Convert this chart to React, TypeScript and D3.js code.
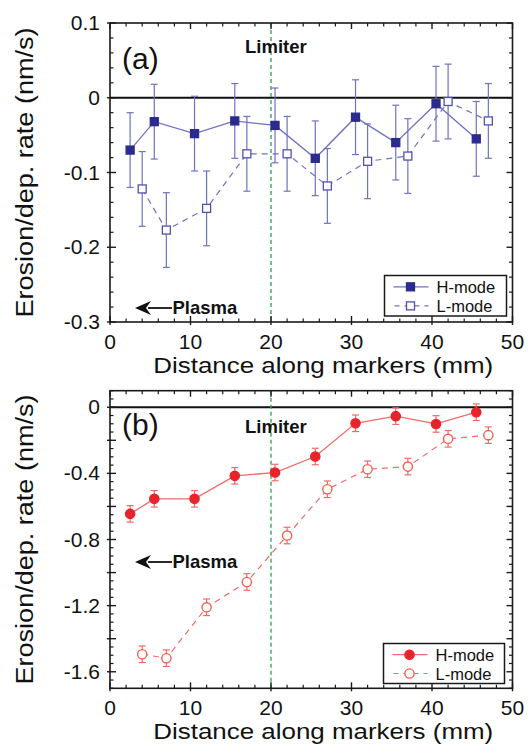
import React from "react";
import * as d3 from "d3";

// ---- data ----
const xH = [2.5, 5.5, 10.5, 15.5, 20.5, 25.5, 30.5, 35.5, 40.5, 45.5];
const xL = [4, 7, 12, 17, 22, 27, 32, 37, 42, 47];
const aHmode = [-0.07, -0.032, -0.048, -0.031, -0.037, -0.081, -0.026, -0.06, -0.008, -0.055];
const aLmode = [-0.122, -0.177, -0.148, -0.075, -0.075, -0.118, -0.085, -0.078, -0.005, -0.031];
const aErr = [0.05, 0.05, 0.05, 0.05, 0.05, 0.05, 0.05, 0.05, 0.05, 0.05];
const bHmode = [-0.645, -0.554, -0.554, -0.415, -0.395, -0.298, -0.097, -0.054, -0.101, -0.03];
const bLmode = [-1.494, -1.518, -1.21, -1.057, -0.776, -0.496, -0.375, -0.359, -0.191, -0.169];
const bErr = [0.05, 0.05, 0.05, 0.05, 0.05, 0.05, 0.05, 0.05, 0.05, 0.05];
const xTickLabels = [0, 10, 20, 30, 40, 50];
const aYTickLabels = [0.1, 0, -0.1, -0.2, -0.3];
const bYTickLabels = [0, -0.4, -0.8, -1.2, -1.6];
const legendNames = ["H-mode", "L-mode"];
const limiterX = 20;

const FONT = "'Liberation Sans', Arial, Helvetica, sans-serif";

type PanelProps = {
  top: number;
  bottom: number;
  yDomain: [number, number];
  yLabels: number[];
  yMajorStep: number;
  yMinorStep: number;
  hVals: number[];
  lVals: number[];
  err: number[];
  kind: "square" | "circle";
  markerColor: string;
  lineColor: string;
  openColor: string;
  tag: string;
  tagBaseline: number;
  limiterBaseline: number;
  plasmaBaseline: number;
  legend: { x0: number; y0: number; x1: number; y1: number };
};

const L = 110;
const R = 512.5;

function fmt(v: number) {
  if (Math.abs(v) < 1e-9) return "0";
  return String(v);
}

function range(a: number, b: number, step: number) {
  const out: number[] = [];
  const n = Math.round((b - a) / step);
  for (let i = 0; i <= n; i++) out.push(+(a + i * step).toFixed(6));
  return out;
}

function Marker({ kind, cx, cy, fill, stroke }: any) {
  if (kind === "square") {
    return <rect x={cx - 4} y={cy - 4} width={8} height={8} fill={fill} stroke={stroke} strokeWidth={1.3} />;
  }
  return <circle cx={cx} cy={cy} r={4.6} fill={fill} stroke={stroke} strokeWidth={1.4} />;
}

function Panel(p: PanelProps) {
  const x = d3.scaleLinear().domain([0, 50]).range([L, R]);
  const y = d3.scaleLinear().domain(p.yDomain).range([p.bottom, p.top]);
  const lineGen = d3
    .line<[number, number]>()
    .x((d) => x(d[0]))
    .y((d) => y(d[1]));
  const hPts: [number, number][] = xH.map((xv, i) => [xv, p.hVals[i]]);
  const lPts: [number, number][] = xL.map((xv, i) => [xv, p.lVals[i]]);

  const xMinor = range(0, 50, 2).filter((v) => Math.abs(v % 10) > 1e-6);
  const yMajor = range(p.yDomain[0], p.yDomain[1], p.yMajorStep).filter(
    (v) => Math.abs(Math.round(v / p.yMajorStep) * p.yMajorStep - v) < 1e-6
  );
  const yMajorAll = range(-2, 0.2, p.yMajorStep).filter((v) => v >= p.yDomain[0] - 1e-6 && v <= p.yDomain[1] + 1e-6);
  const yMinorAll = range(-2, 0.2, p.yMinorStep).filter(
    (v) =>
      v >= p.yDomain[0] - 1e-6 &&
      v <= p.yDomain[1] + 1e-6 &&
      !yMajorAll.some((m) => Math.abs(m - v) < 1e-6)
  );
  void yMajor;

  const errBars = (pts: [number, number][], color: string) =>
    pts.map((d, i) => {
      const cx = x(d[0]);
      const y1 = y(d[1] + p.err[i]);
      const y2 = y(d[1] - p.err[i]);
      return (
        <g key={i} stroke={color} strokeWidth={1.2}>
          <line x1={cx} x2={cx} y1={y1} y2={y2} />
          <line x1={cx - 3.5} x2={cx + 3.5} y1={y1} y2={y1} />
          <line x1={cx - 3.5} x2={cx + 3.5} y1={y2} y2={y2} />
        </g>
      );
    });

  const T = p.top;
  const B = p.bottom;
  const leg = p.legend;
  const legMid = (leg.x0 + leg.x1) / 2;
  void legMid;
  const legRow1 = leg.y0 + (leg.y1 - leg.y0) * 0.28;
  const legRow2 = leg.y0 + (leg.y1 - leg.y0) * 0.75;

  return (
    <g>
      {/* zero line */}
      <line x1={L} x2={R} y1={y(0)} y2={y(0)} stroke="#111" strokeWidth={1.8} />
      {/* limiter */}
      <line x1={x(limiterX)} x2={x(limiterX)} y1={T} y2={B} stroke="#22a84a" strokeWidth={1.3} strokeDasharray="4 3" />
      {/* lines */}
      <path d={lineGen(lPts) || ""} fill="none" stroke={p.lineColor} strokeWidth={1.2} strokeDasharray="6 5" />
      <path d={lineGen(hPts) || ""} fill="none" stroke={p.lineColor} strokeWidth={1.3} />
      {errBars(lPts, p.lineColor)}
      {errBars(hPts, p.lineColor)}
      {lPts.map((d, i) => (
        <Marker key={"l" + i} kind={p.kind} cx={x(d[0])} cy={y(d[1])} fill="#fff" stroke={p.openColor} />
      ))}
      {hPts.map((d, i) => (
        <Marker key={"h" + i} kind={p.kind} cx={x(d[0])} cy={y(d[1])} fill={p.markerColor} stroke={p.markerColor} />
      ))}

      {/* frame */}
      <rect x={L} y={T} width={R - L} height={B - T} fill="none" stroke="#1a1a1a" strokeWidth={1.6} />
      {/* x ticks */}
      {xTickLabels.map((v) => (
        <g key={"xt" + v} stroke="#1a1a1a" strokeWidth={1.4}>
          <line x1={x(v)} x2={x(v)} y1={B + 3} y2={B - 6} />
          <line x1={x(v)} x2={x(v)} y1={T} y2={T + 6} />
        </g>
      ))}
      {xMinor.map((v) => (
        <g key={"xm" + v} stroke="#1a1a1a" strokeWidth={1.2}>
          <line x1={x(v)} x2={x(v)} y1={B} y2={B - 3.5} />
          <line x1={x(v)} x2={x(v)} y1={T} y2={T + 3.5} />
        </g>
      ))}
      {/* y ticks */}
      {yMajorAll.map((v) => (
        <g key={"yt" + v} stroke="#1a1a1a" strokeWidth={1.4}>
          <line x1={L - 3} x2={L + 6} y1={y(v)} y2={y(v)} />
          <line x1={R} x2={R - 6} y1={y(v)} y2={y(v)} />
        </g>
      ))}
      {yMinorAll.map((v) => (
        <g key={"ym" + v} stroke="#1a1a1a" strokeWidth={1.2}>
          <line x1={L} x2={L + 3.5} y1={y(v)} y2={y(v)} />
          <line x1={R} x2={R - 3.5} y1={y(v)} y2={y(v)} />
        </g>
      ))}
      {/* tick labels */}
      {xTickLabels.map((v) => (
        <text key={"xl" + v} x={x(v)} y={B + 27} textAnchor="middle" fontSize={21} fontFamily={FONT} fill="#111">
          {v}
        </text>
      ))}
      {p.yLabels.map((v) => (
        <text
          key={"yl" + v}
          x={100}
          y={y(v) + 7}
          textAnchor="end"
          fontSize={21}
          fontFamily={FONT}
          fill="#111"
        >
          {fmt(v)}
        </text>
      ))}
      {/* axis titles */}
      <text
        x={(L + R) / 2 + 12}
        y={B + 51}
        textAnchor="middle"
        fontSize={22}
        fontFamily={FONT}
        fill="#111"
        textLength={340}
        lengthAdjust="spacingAndGlyphs"
      >
        Distance along markers (mm)
      </text>
      <text
        transform={`translate(33, ${(T + B) / 2}) rotate(-90)`}
        textAnchor="middle"
        fontSize={23}
        fontFamily={FONT}
        fill="#111"
        textLength={290}
        lengthAdjust="spacingAndGlyphs"
      >
        Erosion/dep. rate (nm/s)
      </text>
      {/* annotations */}
      <text x={122} y={p.tagBaseline} fontSize={30} fontFamily={FONT} fill="#111">
        {p.tag}
      </text>
      <text x={x(limiterX) - 26} y={p.limiterBaseline} fontSize={18.5} fontWeight="bold" fontFamily={FONT} fill="#111">
        Limiter
      </text>
      <g>
        <line x1={148} x2={172} y1={p.plasmaBaseline - 6} y2={p.plasmaBaseline - 6} stroke="#111" strokeWidth={1.8} />
        <path
          d={`M135,${p.plasmaBaseline - 6} L151,${p.plasmaBaseline - 13} L146,${p.plasmaBaseline - 6} L151,${p.plasmaBaseline + 1} Z`}
          fill="#111"
        />
        <text x={172.5} y={p.plasmaBaseline} fontSize={18.5} fontWeight="bold" fontFamily={FONT} fill="#111">
          Plasma
        </text>
      </g>
      {/* legend */}
      <rect x={leg.x0} y={leg.y0} width={leg.x1 - leg.x0} height={leg.y1 - leg.y0} fill="#fff" stroke="#1a1a1a" strokeWidth={1.5} />
      <line x1={leg.x0 + 9} x2={leg.x0 + 44} y1={legRow1} y2={legRow1} stroke={p.lineColor} strokeWidth={1.3} />
      <Marker kind={p.kind} cx={leg.x0 + 26} cy={legRow1} fill={p.markerColor} stroke={p.markerColor} />
      <line x1={leg.x0 + 9} x2={leg.x0 + 44} y1={legRow2} y2={legRow2} stroke={p.lineColor} strokeWidth={1.2} strokeDasharray="5 5" strokeDashoffset={-1} />
      <Marker kind={p.kind} cx={leg.x0 + 26} cy={legRow2} fill="#fff" stroke={p.openColor} />
      <text x={leg.x0 + 52} y={legRow1 + 6} fontSize={16.5} fontFamily={FONT} fill="#111">
        {legendNames[0]}
      </text>
      <text x={leg.x0 + 52} y={legRow2 + 6} fontSize={16.5} fontFamily={FONT} fill="#111">
        {legendNames[1]}
      </text>
    </g>
  );
}

export default function App() {
  return (
    <svg
      width={530}
      height={756}
      style={{ position: "absolute", left: 0, top: 0, background: "#fff" }}
      xmlns="http://www.w3.org/2000/svg"
    >
      <rect width={530} height={756} fill="#fff" />
      <Panel
        top={23}
        bottom={322}
        yDomain={[-0.3, 0.1]}
        yLabels={aYTickLabels}
        yMajorStep={0.1}
        yMinorStep={0.02}
        hVals={aHmode}
        lVals={aLmode}
        err={aErr}
        kind="square"
        markerColor="#2b2b8e"
        lineColor="#6f72c2"
        openColor="#4f52b0"
        tag="(a)"
        tagBaseline={69}
        limiterBaseline={53}
        plasmaBaseline={314}
        legend={{ x0: 384.5, y0: 275.5, x1: 506.5, y1: 316 }}
      />
      <Panel
        top={390.7}
        bottom={688.3}
        yDomain={[-1.7, 0.1]}
        yLabels={bYTickLabels}
        yMajorStep={0.2}
        yMinorStep={0.05}
        hVals={bHmode}
        lVals={bLmode}
        err={bErr}
        kind="circle"
        markerColor="#e8232a"
        lineColor="#f06a6a"
        openColor="#f26050"
        tag="(b)"
        tagBaseline={435}
        limiterBaseline={433}
        plasmaBaseline={568}
        legend={{ x0: 383.5, y0: 643.5, x1: 504.5, y1: 683.5 }}
      />
    </svg>
  );
}
